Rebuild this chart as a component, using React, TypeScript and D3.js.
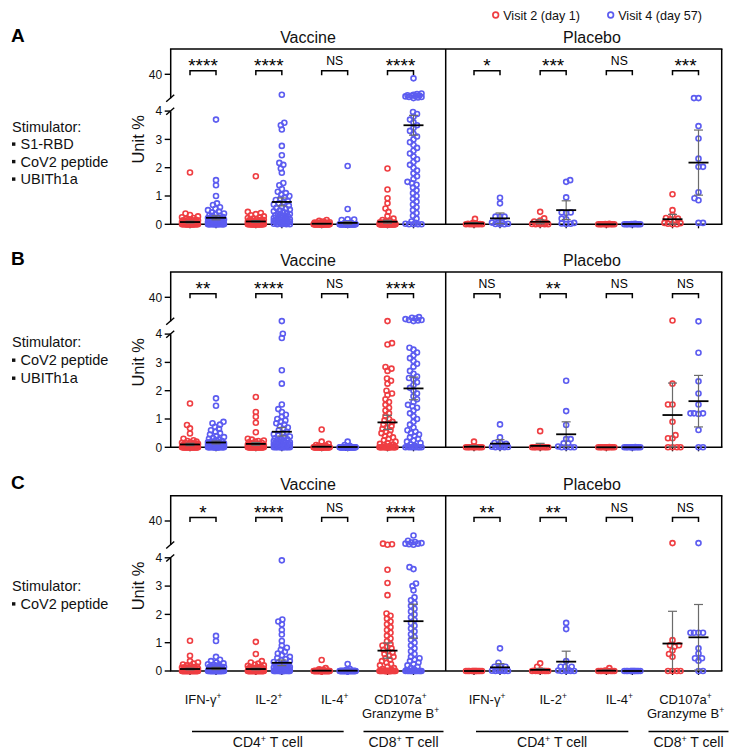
import React from "react";
import * as d3 from "d3";

// ---------------- categories & labels ----------------
const markers = ["IFN-γ", "IL-2", "IL-4", "CD107a"];
const visitKeys = ["v2", "v4"];
const visitLabels = ["Visit 2 (day 1)", "Visit 4 (day 57)"];
const armLabels = ["Vaccine", "Placebo"];
const panelLetters = ["A", "B", "C"];
const stimulatorLists = [
  ["S1-RBD", "CoV2 peptide", "UBITh1a"],
  ["CoV2 peptide", "UBITh1a"],
  ["CoV2 peptide"],
];
const lowerTicks = [0, 1, 2, 3, 4];
const upperTicks = [40];

// ---------------- significance ----------------
const aVacSig = ["****", "****", "NS", "****"];
const aPlaSig = ["*", "***", "NS", "***"];
const bVacSig = ["**", "****", "NS", "****"];
const bPlaSig = ["NS", "**", "NS", "NS"];
const cVacSig = ["*", "****", "NS", "****"];
const cPlaSig = ["**", "**", "NS", "NS"];

// ---------------- means and error (order: IFN v2, IFN v4, IL2 v2, IL2 v4, IL4 v2, IL4 v4, CD107a v2, CD107a v4) ----------------
const aVacMean = [0.08, 0.23, 0.1, 0.79, 0.02, 0.05, 0.09, 3.5];
const aVacErr = [0.03, 0.07, 0.03, 0.14, 0.01, 0.04, 0.05, 0.35];
const aPlaMean = [0.03, 0.21, 0.09, 0.5, 0, 0.01, 0.18, 2.18];
const aPlaErr = [0.03, 0.19, 0.07, 0.33, 0, 0.01, 0.17, 1.15];
const bVacMean = [0.1, 0.17, 0.12, 0.55, 0.02, 0.01, 0.88, 2.08];
const bVacErr = [0.04, 0.05, 0.05, 0.15, 0.01, 0.01, 0.25, 0.4];
const bPlaMean = [0.02, 0.13, 0.05, 0.46, 0, 0, 1.14, 1.63];
const bPlaErr = [0.04, 0.14, 0.09, 0.44, 0, 0, 1.13, 0.91];
const cVacMean = [0.07, 0.09, 0.07, 0.29, 0.01, 0.01, 0.72, 1.76];
const cVacErr = [0.03, 0.04, 0.03, 0.1, 0.01, 0.01, 0.27, 0.6];
const cPlaMean = [0, 0.13, 0.04, 0.33, 0.01, 0, 0.97, 1.19];
const cPlaErr = [0, 0.13, 0.05, 0.37, 0.02, 0, 1.14, 1.16];

// ---------------- Panel A: S1-RBD + CoV2 peptide + UBITh1a ----------------
const aVacIfnV2 = [1.83, 0.38, 0.33, 0.28, 0.25, 0.22, 0.2, 0.18, 0.16, 0.15, 0.14, 0.13, 0.12, 0.11, 0.1, 0.1, 0.09, 0.08, 0.08, 0.07, 0.07, 0.06, 0.06, 0.05, 0.05, 0.04, 0.04, 0.03, 0.03, 0.02, 0.02, 0.02, 0.01, 0.01, 0.01,
  0, 0, 0, 0, 0, 0, 0, 0, 0, 0, 0, 0, 0, 0, 0, 0, 0, 0, 0, 0, 0, 0, 0, 0, 0];
const aVacIfnV4 = [3.7, 1.56, 1.38, 1.0, 0.74, 0.68, 0.6, 0.55, 0.5, 0.45, 0.42, 0.38, 0.35, 0.32, 0.3, 0.28, 0.26, 0.24, 0.22, 0.2, 0.19, 0.18, 0.17, 0.16, 0.15, 0.14, 0.13, 0.12, 0.11, 0.1, 0.1, 0.09, 0.08, 0.08, 0.07, 0.06, 0.05, 0.05, 0.04, 0.03, 0.03, 0.02, 0.02, 0.01, 0.01,
  0, 0, 0, 0, 0, 0, 0, 0, 0, 0, 0, 0, 0, 0, 0];
const aVacIl2V2 = [1.7, 0.44, 0.4, 0.36, 0.32, 0.28, 0.25, 0.22, 0.2, 0.18, 0.16, 0.15, 0.14, 0.13, 0.12, 0.11, 0.1, 0.1, 0.09, 0.08, 0.07, 0.07, 0.06, 0.05, 0.05, 0.04, 0.03, 0.03, 0.02, 0.02, 0.01, 0.01,
  0, 0, 0, 0, 0, 0, 0, 0, 0, 0, 0, 0, 0, 0, 0, 0, 0, 0, 0, 0, 0, 0, 0, 0, 0, 0, 0, 0];
const aVacIl2V4 = [4.58, 3.59, 3.5, 3.35, 2.77, 2.44, 2.17, 2.1, 1.97, 1.82, 1.46, 1.38, 1.25, 1.15, 1.1, 1.05, 1.0, 0.95, 0.9, 0.86, 0.82, 0.78, 0.74, 0.7, 0.66, 0.62, 0.58, 0.55, 0.52, 0.49, 0.46, 0.43, 0.4, 0.38, 0.36, 0.34, 0.32, 0.3, 0.28, 0.26, 0.24, 0.22, 0.2, 0.18, 0.17, 0.16, 0.14, 0.13, 0.12, 0.1, 0.09, 0.08, 0.07, 0.06, 0.05, 0.04, 0.03, 0.02,
  0, 0, 0, 0];
const aVacIl4V2 = [0.15, 0.12, 0.1, 0.08, 0.07, 0.06, 0.05, 0.05, 0.04, 0.04, 0.03, 0.03, 0.02, 0.02, 0.02, 0.01, 0.01, 0.01,
  0, 0, 0, 0, 0, 0, 0, 0, 0, 0, 0, 0, 0, 0, 0, 0, 0, 0, 0, 0, 0, 0, 0, 0, 0, 0, 0, 0, 0, 0, 0, 0, 0, 0, 0, 0, 0, 0, 0, 0, 0, 0];
const aVacIl4V4 = [2.06, 0.54, 0.18, 0.17, 0.15, 0.05, 0.04, 0.03, 0.03, 0.02, 0.02, 0.01, 0.01,
  0, 0, 0, 0, 0, 0, 0, 0, 0, 0, 0, 0, 0, 0, 0, 0, 0, 0, 0, 0, 0, 0, 0, 0, 0, 0, 0, 0, 0, 0, 0, 0, 0, 0, 0, 0, 0, 0, 0, 0, 0, 0, 0, 0, 0, 0, 0];
const aVacCdV2 = [1.97, 1.23, 0.92, 0.74, 0.56, 0.44, 0.29, 0.2, 0.15, 0.12, 0.1, 0.08, 0.07, 0.06, 0.05, 0.05, 0.04, 0.04, 0.03, 0.03, 0.02, 0.02, 0.02, 0.01, 0.01,
  0, 0, 0, 0, 0, 0, 0, 0, 0, 0, 0, 0, 0, 0, 0, 0, 0, 0, 0, 0, 0, 0, 0, 0, 0, 0, 0, 0, 0, 0, 0, 0, 0, 0, 0];
const aVacCdV4 = [27, 4.62, 4.6, 4.58, 4.56, 4.55, 4.54, 4.53, 4.52, 4.5, 4.5, 4.48, 4.46,
  3.97, 3.9, 3.8, 3.7, 3.6, 3.5, 3.4, 3.3, 3.2, 3.1, 3.0, 2.9, 2.8, 2.7, 2.6, 2.5, 2.4, 2.3, 2.2, 2.1, 2.0, 1.9, 1.8, 1.7, 1.6, 1.5, 1.45, 1.4, 1.3, 1.2, 1.1, 1.0, 0.9, 0.8, 0.7, 0.6, 0.5, 0.4, 0.3, 0.2, 0.1, 0.05, 0.02,
  0, 0, 0, 0];
const aPlaIfnV2 = [0.19, 0.05, 0.03, 0.02, 0.01, 0, 0, 0, 0, 0, 0, 0];
const aPlaIfnV4 = [0.94, 0.74, 0.27, 0.27, 0.27, 0.06, 0.06, 0.06, 0.02, 0.01, 0, 0];
const aPlaIl2V2 = [0.44, 0.21, 0.13, 0.1, 0.05, 0.03, 0.02, 0.01, 0, 0, 0, 0];
const aPlaIl2V4 = [1.56, 1.5, 0.95, 0.42, 0.42, 0.4, 0.2, 0.18, 0.05, 0.03, 0.02, 0.01];
const aPlaIl4V2 = [0.02, 0.01, 0, 0, 0, 0, 0, 0, 0, 0, 0, 0];
const aPlaIl4V4 = [0.02, 0.01, 0.01, 0, 0, 0, 0, 0, 0, 0, 0, 0];
const aPlaCdV2 = [1.06, 0.5, 0.33, 0.22, 0.2, 0.18, 0.1, 0.05, 0.04, 0.02, 0, 0];
const aPlaCdV4 = [4.46, 4.46, 3.47, 3.03, 2.32, 2.03, 2.03, 1.13, 0.92, 0.85, 0.05, 0.05];

// ---------------- Panel B: CoV2 peptide + UBITh1a ----------------
const bVacIfnV2 = [1.55, 0.79, 0.67, 0.49, 0.3, 0.25, 0.22, 0.2, 0.18, 0.16, 0.15, 0.14, 0.12, 0.11, 0.1, 0.09, 0.08, 0.07, 0.06, 0.05, 0.05, 0.04, 0.03, 0.03, 0.02, 0.02, 0.01, 0.01,
  0, 0, 0, 0, 0, 0, 0, 0, 0, 0, 0, 0, 0, 0, 0, 0, 0, 0, 0, 0, 0, 0, 0, 0, 0, 0, 0, 0, 0, 0, 0, 0];
const bVacIfnV4 = [1.73, 1.47, 0.9, 0.85, 0.8, 0.72, 0.65, 0.6, 0.55, 0.5, 0.45, 0.4, 0.36, 0.33, 0.3, 0.28, 0.25, 0.22, 0.2, 0.18, 0.17, 0.15, 0.14, 0.13, 0.12, 0.11, 0.1, 0.09, 0.08, 0.07, 0.06, 0.05, 0.05, 0.04, 0.03, 0.03, 0.02, 0.02, 0.01, 0.01,
  0, 0, 0, 0, 0, 0, 0, 0, 0, 0, 0, 0, 0, 0, 0, 0, 0, 0, 0, 0];
const bVacIl2V2 = [1.78, 1.25, 1.08, 0.87, 0.53, 0.3, 0.27, 0.24, 0.22, 0.2, 0.18, 0.16, 0.14, 0.12, 0.11, 0.1, 0.09, 0.08, 0.07, 0.06, 0.05, 0.04, 0.04, 0.03, 0.03, 0.02, 0.02, 0.01, 0.01,
  0, 0, 0, 0, 0, 0, 0, 0, 0, 0, 0, 0, 0, 0, 0, 0, 0, 0, 0, 0, 0, 0, 0, 0, 0, 0, 0, 0, 0, 0, 0];
const bVacIl2V4 = [4.46, 4.01, 3.86, 2.72, 2.25, 1.51, 1.35, 1.25, 1.15, 1.08, 1.0, 0.95, 0.9, 0.85, 0.8, 0.75, 0.7, 0.65, 0.6, 0.55, 0.5, 0.46, 0.42, 0.38, 0.35, 0.32, 0.3, 0.28, 0.26, 0.24, 0.22, 0.2, 0.18, 0.16, 0.15, 0.14, 0.13, 0.12, 0.11, 0.1, 0.09, 0.08, 0.07, 0.06, 0.05, 0.04, 0.03, 0.02, 0.01,
  0, 0, 0, 0, 0, 0, 0, 0, 0, 0, 0];
const bVacIl4V2 = [0.63, 0.2, 0.12, 0.08, 0.06, 0.05, 0.04, 0.03, 0.02, 0.02, 0.01, 0.01,
  0, 0, 0, 0, 0, 0, 0, 0, 0, 0, 0, 0, 0, 0, 0, 0, 0, 0, 0, 0, 0, 0, 0, 0, 0, 0, 0, 0, 0, 0, 0, 0, 0, 0, 0, 0, 0, 0, 0, 0, 0, 0, 0, 0, 0, 0, 0, 0];
const bVacIl4V4 = [0.2, 0.08, 0.05, 0.03, 0.02, 0.01,
  0, 0, 0, 0, 0, 0, 0, 0, 0, 0, 0, 0, 0, 0, 0, 0, 0, 0, 0, 0, 0, 0, 0, 0, 0, 0, 0, 0, 0, 0, 0, 0, 0, 0, 0, 0, 0, 0, 0, 0, 0, 0, 0, 0, 0, 0, 0, 0, 0, 0, 0, 0, 0, 0];
const bVacCdV2 = [4.46, 3.68, 3.63, 2.84, 2.78, 2.7, 2.43, 2.35, 2.25, 2.0, 1.9, 1.85, 1.7, 1.6, 1.5, 1.4, 1.3, 1.2, 1.1, 1.0, 0.95, 0.9, 0.85, 0.8, 0.75, 0.7, 0.65, 0.6, 0.55, 0.5, 0.45, 0.4, 0.35, 0.3, 0.25, 0.2, 0.15, 0.12, 0.1, 0.08, 0.05, 0.03,
  0, 0, 0, 0, 0, 0, 0, 0, 0, 0, 0, 0, 0, 0, 0, 0, 0, 0];
const bVacCdV4 = [4.6, 4.58, 4.55, 4.53, 4.5, 4.5, 4.48, 4.46,
  3.52, 3.45, 3.35, 3.25, 3.15, 3.05, 2.95, 2.85, 2.7, 2.6, 2.5, 2.45, 2.4, 2.3, 2.2, 2.1, 2.0, 1.9, 1.8, 1.7, 1.6, 1.5, 1.45, 1.4, 1.3, 1.2, 1.1, 1.0, 0.9, 0.8, 0.7, 0.6, 0.55, 0.5, 0.45, 0.4, 0.35, 0.3, 0.25, 0.2, 0.15, 0.1, 0.06, 0.03,
  0, 0, 0, 0, 0, 0, 0, 0];
const bPlaIfnV2 = [0.2, 0.02, 0.01, 0, 0, 0, 0, 0, 0, 0, 0, 0];
const bPlaIfnV4 = [0.81, 0.35, 0.15, 0.15, 0.12, 0.05, 0.03, 0.02, 0.01, 0, 0, 0];
const bPlaIl2V2 = [0.57, 0.02, 0.01, 0, 0, 0, 0, 0, 0, 0, 0, 0];
const bPlaIl2V4 = [2.35, 1.28, 0.79, 0.29, 0.29, 0.14, 0.14, 0.03, 0, 0, 0, 0];
const bPlaIl4V2 = [0.01, 0, 0, 0, 0, 0, 0, 0, 0, 0, 0, 0];
const bPlaIl4V4 = [0.01, 0, 0, 0, 0, 0, 0, 0, 0, 0, 0, 0];
const bPlaCdV2 = [4.48, 2.25, 1.51, 1.51, 0.9, 0.43, 0.32, 0.32, 0, 0, 0, 0];
const bPlaCdV4 = [4.45, 3.34, 2.33, 1.9, 1.51, 1.2, 1.2, 1.2, 1.18, 0.61, 0, 0];

// ---------------- Panel C: CoV2 peptide ----------------
const cVacIfnV2 = [1.07, 0.54, 0.35, 0.3, 0.26, 0.23, 0.2, 0.18, 0.16, 0.14, 0.13, 0.12, 0.11, 0.1, 0.09, 0.08, 0.07, 0.06, 0.05, 0.05, 0.04, 0.03, 0.03, 0.02, 0.02, 0.01, 0.01,
  0, 0, 0, 0, 0, 0, 0, 0, 0, 0, 0, 0, 0, 0, 0, 0, 0, 0, 0, 0, 0, 0, 0, 0, 0, 0, 0, 0, 0, 0, 0, 0, 0];
const cVacIfnV4 = [1.24, 1.06, 0.5, 0.4, 0.35, 0.3, 0.27, 0.24, 0.22, 0.2, 0.18, 0.16, 0.15, 0.14, 0.13, 0.12, 0.11, 0.1, 0.09, 0.08, 0.07, 0.06, 0.05, 0.05, 0.04, 0.03, 0.03, 0.02, 0.02, 0.01, 0.01,
  0, 0, 0, 0, 0, 0, 0, 0, 0, 0, 0, 0, 0, 0, 0, 0, 0, 0, 0, 0, 0, 0, 0, 0, 0, 0, 0, 0, 0];
const cVacIl2V2 = [1.03, 0.6, 0.35, 0.3, 0.26, 0.22, 0.2, 0.18, 0.16, 0.14, 0.12, 0.11, 0.1, 0.09, 0.08, 0.07, 0.06, 0.05, 0.04, 0.04, 0.03, 0.02, 0.02, 0.01, 0.01,
  0, 0, 0, 0, 0, 0, 0, 0, 0, 0, 0, 0, 0, 0, 0, 0, 0, 0, 0, 0, 0, 0, 0, 0, 0, 0, 0, 0, 0, 0, 0, 0, 0, 0, 0];
const cVacIl2V4 = [3.91, 1.82, 1.75, 1.65, 1.45, 1.29, 1.06, 0.9, 0.82, 0.75, 0.68, 0.62, 0.56, 0.5, 0.46, 0.42, 0.38, 0.35, 0.32, 0.29, 0.26, 0.24, 0.22, 0.2, 0.18, 0.16, 0.15, 0.14, 0.13, 0.12, 0.11, 0.1, 0.09, 0.08, 0.07, 0.06, 0.05, 0.04, 0.03, 0.02, 0.01,
  0, 0, 0, 0, 0, 0, 0, 0, 0, 0, 0, 0, 0, 0, 0, 0, 0, 0, 0];
const cVacIl4V2 = [0.39, 0.1, 0.06, 0.04, 0.03, 0.02, 0.01,
  0, 0, 0, 0, 0, 0, 0, 0, 0, 0, 0, 0, 0, 0, 0, 0, 0, 0, 0, 0, 0, 0, 0, 0, 0, 0, 0, 0, 0, 0, 0, 0, 0, 0, 0, 0, 0, 0, 0, 0, 0, 0, 0, 0, 0, 0, 0, 0, 0, 0, 0, 0, 0];
const cVacIl4V4 = [0.25, 0.08, 0.04, 0.02, 0.01,
  0, 0, 0, 0, 0, 0, 0, 0, 0, 0, 0, 0, 0, 0, 0, 0, 0, 0, 0, 0, 0, 0, 0, 0, 0, 0, 0, 0, 0, 0, 0, 0, 0, 0, 0, 0, 0, 0, 0, 0, 0, 0, 0, 0, 0, 0, 0, 0, 0, 0, 0, 0, 0, 0, 0];
const cVacCdV2 = [4.5, 4.48, 4.46, 3.58, 3.11, 2.68, 2.03, 1.95, 1.85, 1.75, 1.65, 1.55, 1.45, 1.35, 1.25, 1.15, 1.05, 0.95, 0.9, 0.85, 0.8, 0.75, 0.7, 0.65, 0.6, 0.55, 0.5, 0.45, 0.4, 0.35, 0.3, 0.25, 0.2, 0.15, 0.1, 0.07, 0.04, 0.02,
  0, 0, 0, 0, 0, 0, 0, 0, 0, 0, 0, 0, 0, 0, 0, 0, 0, 0, 0, 0, 0, 0];
const cVacCdV4 = [4.79, 4.6, 4.56, 4.54, 4.52, 4.5, 4.5, 4.48, 4.46,
  3.67, 3.6, 3.09, 3.0, 2.85, 2.6, 2.5, 2.4, 2.3, 2.2, 2.1, 2.0, 1.9, 1.8, 1.7, 1.6, 1.5, 1.4, 1.3, 1.2, 1.1, 1.0, 0.9, 0.8, 0.7, 0.6, 0.5, 0.45, 0.4, 0.35, 0.3, 0.25, 0.2, 0.15, 0.1, 0.06, 0.03,
  0, 0, 0, 0, 0, 0, 0, 0, 0, 0, 0, 0, 0, 0];
const cPlaIfnV2 = [0, 0, 0, 0, 0, 0, 0, 0, 0, 0, 0, 0];
const cPlaIfnV4 = [0.8, 0.29, 0.15, 0.15, 0.15, 0.03, 0.02, 0.01, 0, 0, 0, 0];
const cPlaIl2V2 = [0.27, 0.15, 0.02, 0.01, 0, 0, 0, 0, 0, 0, 0, 0];
const cPlaIl2V4 = [1.7, 1.48, 0.35, 0.15, 0.15, 0.15, 0.03, 0.02, 0, 0, 0, 0];
const cPlaIl4V2 = [0.1, 0.02, 0, 0, 0, 0, 0, 0, 0, 0, 0, 0];
const cPlaIl4V4 = [0, 0, 0, 0, 0, 0, 0, 0, 0, 0, 0, 0];
const cPlaCdV2 = [4.52, 1.09, 0.91, 0.91, 0.86, 0.72, 0.6, 0.5, 0, 0, 0, 0];
const cPlaCdV4 = [4.52, 1.35, 1.35, 1.35, 1.35, 0.8, 0.62, 0.45, 0.45, 0.36, 0, 0];

// ---------------- assemble ----------------
const panels = [
  {
    arms: [
      { groups: [[aVacIfnV2, aVacIfnV4], [aVacIl2V2, aVacIl2V4], [aVacIl4V2, aVacIl4V4], [aVacCdV2, aVacCdV4]], mean: aVacMean, err: aVacErr, sig: aVacSig },
      { groups: [[aPlaIfnV2, aPlaIfnV4], [aPlaIl2V2, aPlaIl2V4], [aPlaIl4V2, aPlaIl4V4], [aPlaCdV2, aPlaCdV4]], mean: aPlaMean, err: aPlaErr, sig: aPlaSig },
    ],
  },
  {
    arms: [
      { groups: [[bVacIfnV2, bVacIfnV4], [bVacIl2V2, bVacIl2V4], [bVacIl4V2, bVacIl4V4], [bVacCdV2, bVacCdV4]], mean: bVacMean, err: bVacErr, sig: bVacSig },
      { groups: [[bPlaIfnV2, bPlaIfnV4], [bPlaIl2V2, bPlaIl2V4], [bPlaIl4V2, bPlaIl4V4], [bPlaCdV2, bPlaCdV4]], mean: bPlaMean, err: bPlaErr, sig: bPlaSig },
    ],
  },
  {
    arms: [
      { groups: [[cVacIfnV2, cVacIfnV4], [cVacIl2V2, cVacIl2V4], [cVacIl4V2, cVacIl4V4], [cVacCdV2, cVacCdV4]], mean: cVacMean, err: cVacErr, sig: cVacSig },
      { groups: [[cPlaIfnV2, cPlaIfnV4], [cPlaIl2V2, cPlaIl2V4], [cPlaIl4V2, cPlaIl4V4], [cPlaCdV2, cPlaCdV4]], mean: cPlaMean, err: cPlaErr, sig: cPlaSig },
    ],
  },
];

const RED = "#EF3E42";
const BLUE = "#5C5CF0";
const visitColors = [RED, BLUE];
const FONT = "'Liberation Sans', Arial, Helvetica, sans-serif";

const R = 2.5;
const SW = 1.6;
const MIN_D = 4.3;
const MAX_OFF = 8;
const CANDS = d3.range(-MAX_OFF, MAX_OFF + 0.001, 0.5);

// greedy beeswarm: each point goes to the free horizontal slot nearest the centre
function swarm(values, yFn, cx) {
  const pts = values.map((v) => ({ v, y: yFn(v) })).sort((a, b) => b.y - a.y);
  const placed = [];
  let balance = 0;
  for (const p of pts) {
    const near = placed.filter((q) => Math.abs(q.y - p.y) < MIN_D);
    const order = CANDS.slice().sort((a, b) => Math.abs(a) - Math.abs(b) || (balance > 0 ? a - b : b - a));
    let chosen = null;
    let fallback = 0;
    let fallbackScore = -1;
    for (const off of order) {
      let md = Infinity;
      for (const q of near) {
        const d = Math.hypot(q.off - off, q.y - p.y);
        if (d < md) md = d;
      }
      if (md >= MIN_D) {
        chosen = off;
        break;
      }
      if (md > fallbackScore + 1e-9) {
        fallbackScore = md;
        fallback = off;
      }
    }
    const off = chosen === null ? fallback : chosen;
    balance += Math.sign(off);
    placed.push({ ...p, off });
  }
  return placed.map((p) => ({ ...p, x: cx + p.off }));
}

export default function App() {
  const W = 735;
  const H = 750;
  const boxL = 170.7;
  const boxMid = 445.7;
  const boxR = 721.7;
  const bases = [224.3, 447.3, 671];
  const unit = 28.3;
  const armX = [
    d3.scalePoint().domain(markers).range([203, 400.5]),
    d3.scalePoint().domain(markers).range([487, 685.5]),
  ];
  const visitOff = d3.scalePoint().domain(visitKeys).range([-13, 13]);
  const titleX = [308, 592];
  const stimBaselines = [
    [131.7, 149.2, 166.7, 184.2],
    [347.3, 365.3, 383.3],
    [591, 609],
  ];

  return (
    <svg
      width={W}
      height={H}
      viewBox={`0 0 ${W} ${H}`}
      style={{ display: "block", position: "absolute", left: 0, top: 0, background: "#fff" }}
      fontFamily={FONT}
    >
      <rect x={0} y={0} width={W} height={H} fill="#fff" />

      {visitLabels.map((lab, i) => {
        const lx = [495.7, 610.7][i];
        return (
          <g key={lab}>
            <circle cx={lx} cy={15} r={2.8} fill="none" stroke={visitColors[i]} strokeWidth={1.7} />
            <text x={lx + 7.5} y={19.6} fontSize={12.6} fill="#111">{lab}</text>
          </g>
        );
      })}

      {panels.map((panel, p) => {
        const base = bases[p];
        const top = base - 175.3;
        const lower = d3.scaleLinear().domain([0, 4.9]).range([base, base - 4.9 * unit]);
        const upper = d3.scaleLinear().domain([4.9, 40]).range([base - 139, base - 150]);
        const yFn = (v) => (v <= 4.9 ? lower(v) : upper(v));
        const breakLow = base - 113;
        const breakHigh = base - 126;
        const stim = stimulatorLists[p];
        const sb = stimBaselines[p];
        return (
          <g key={p}>
            <text x={11} y={base - 182} fontSize={19} fontWeight="bold" fill="#000">{panelLetters[p]}</text>
            <text x={12} y={sb[0]} fontSize={14.5} fill="#111">Stimulator:</text>
            {stim.map((s, k) => (
              <g key={s}>
                <rect x={12} y={sb[k + 1] - 6.8} width={3.4} height={3.4} fill="#111" />
                <text x={20.5} y={sb[k + 1]} fontSize={14.5} fill="#111">{s}</text>
              </g>
            ))}
            <text transform={`translate(144,${base - 85}) rotate(-90)`} textAnchor="middle" fontSize={16.5} fill="#111">Unit %</text>

            {armLabels.map((a, ai) => (
              <text key={a} x={titleX[ai]} y={base - 181.5} textAnchor="middle" fontSize={16} fill="#111">{a}</text>
            ))}

            {lowerTicks.map((t) => (
              <g key={t}>
                <line x1={boxL - 6} x2={boxL} y1={lower(t)} y2={lower(t)} stroke="#000" strokeWidth={1.4} />
                <text x={boxL - 8.5} y={lower(t)} dy="0.35em" textAnchor="end" fontSize={12} fill="#111">{t}</text>
              </g>
            ))}
            {upperTicks.map((t) => (
              <g key={t}>
                <line x1={boxL - 6} x2={boxL} y1={upper(t)} y2={upper(t)} stroke="#000" strokeWidth={1.4} />
                <text x={boxL - 8.5} y={upper(t)} dy="0.35em" textAnchor="end" fontSize={12} fill="#111">{t}</text>
              </g>
            ))}

            <line x1={boxL} x2={boxL} y1={base} y2={breakLow} stroke="#000" strokeWidth={1.5} />
            <line x1={boxL} x2={boxL} y1={breakHigh} y2={top} stroke="#000" strokeWidth={1.5} />
            <line x1={boxL - 4.5} x2={boxL + 3.5} y1={breakLow + 3.5} y2={breakLow - 3.5} stroke="#000" strokeWidth={1.4} />
            <line x1={boxL - 4.5} x2={boxL + 3.5} y1={breakHigh + 3.5} y2={breakHigh - 3.5} stroke="#000" strokeWidth={1.4} />
            <line x1={boxL - 0.75} x2={boxR + 0.75} y1={top} y2={top} stroke="#000" strokeWidth={1.5} />
            <line x1={boxR} x2={boxR} y1={top} y2={base} stroke="#000" strokeWidth={1.5} />
            <line x1={boxMid} x2={boxMid} y1={top} y2={base} stroke="#000" strokeWidth={1.5} />
            <line x1={boxL - 0.75} x2={boxR + 0.75} y1={base} y2={base} stroke="#000" strokeWidth={1.5} />

            {panel.arms.map((arm, ai) => {
              const xs = armX[ai];
              return (
                <g key={ai}>
                  {markers.map((m, mi) => {
                    const cx2 = xs(m) + visitOff("v2");
                    const cx4 = xs(m) + visitOff("v4");
                    const by = base - 153.6;
                    const sig = arm.sig[mi];
                    const isStar = sig !== "NS";
                    return (
                      <g key={m}>
                        {[cx2, cx4].map((cx, k) => (
                          <line key={k} x1={cx} x2={cx} y1={base} y2={base + 4} stroke="#000" strokeWidth={1.3} />
                        ))}
                        <path d={`M${cx2},${by + 4.6}V${by}H${cx4}V${by + 4.6}`} fill="none" stroke="#000" strokeWidth={1.5} />
                        <text x={(cx2 + cx4) / 2} y={isStar ? base - 152.3 : base - 159.3} textAnchor="middle" fontSize={isStar ? 19 : 12.2} fill="#000">{sig}</text>
                        {visitKeys.map((vk, vi) => {
                          const cx = xs(m) + visitOff(vk);
                          const pts = swarm(arm.groups[mi][vi], yFn, cx);
                          return (
                            <g key={vk}>
                              {pts.map((pt, q) => (
                                <circle key={q} cx={pt.x} cy={pt.y} r={R} fill="none" stroke={visitColors[vi]} strokeWidth={SW} />
                              ))}
                            </g>
                          );
                        })}
                        {visitKeys.map((vk, vi) => {
                          const cx = xs(m) + visitOff(vk);
                          const mean = arm.mean[mi * 2 + vi];
                          const err = arm.err[mi * 2 + vi];
                          const hi = yFn(mean + err);
                          const loV = Math.max(0, mean - err);
                          const lo = yFn(loV);
                          return (
                            <g key={vk}>
                              {err > 0 && (
                                <g stroke="#6b6b6b" strokeWidth={1.2}>
                                  <line x1={cx} x2={cx} y1={lo} y2={hi} />
                                  <line x1={cx - 4.5} x2={cx + 4.5} y1={hi} y2={hi} />
                                  {loV > 0 && <line x1={cx - 4.5} x2={cx + 4.5} y1={lo} y2={lo} />}
                                </g>
                              )}
                              <line x1={cx - 10} x2={cx + 10} y1={yFn(mean)} y2={yFn(mean)} stroke="#000" strokeWidth={1.8} />
                            </g>
                          );
                        })}
                      </g>
                    );
                  })}
                </g>
              );
            })}

            {p === 2 && armX.map((xs, ai) => {
              const c4a = xs(markers[0]) - 11;
              const c4b = xs(markers[2]) + 9;
              const c8a = xs(markers[3]) - 37;
              const c8b = xs(markers[3]) + 43;
              return (
                <g key={ai} fontSize={13} fill="#111">
                  {markers.map((m, mi) => (
                    <g key={m}>
                      <text x={xs(m)} y={703.5} textAnchor="middle">
                        {m}
                        <tspan dy={-5} fontSize={8.5}>+</tspan>
                      </text>
                      {mi === 3 && (
                        <text x={xs(m)} y={718} textAnchor="middle">
                          Granzyme B
                          <tspan dy={-5} fontSize={8.5}>+</tspan>
                        </text>
                      )}
                    </g>
                  ))}
                  <line x1={c4a} x2={c4b} y1={731.6} y2={731.6} stroke="#000" strokeWidth={1.5} />
                  <line x1={c8a} x2={c8b} y1={731.6} y2={731.6} stroke="#000" strokeWidth={1.5} />
                  <text x={(c4a + c4b) / 2} y={747} textAnchor="middle" fontSize={14}>
                    CD4<tspan dy={-5} fontSize={9}>+</tspan><tspan dy={5}> T cell</tspan>
                  </text>
                  <text x={(c8a + c8b) / 2} y={747} textAnchor="middle" fontSize={14}>
                    CD8<tspan dy={-5} fontSize={9}>+</tspan><tspan dy={5}> T cell</tspan>
                  </text>
                </g>
              );
            })}
          </g>
        );
      })}
    </svg>
  );
}
